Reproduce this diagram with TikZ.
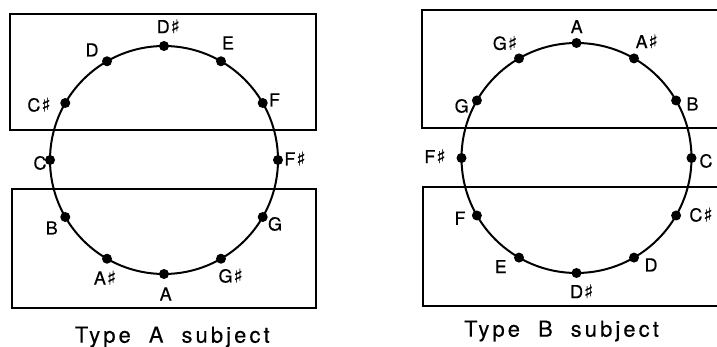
\documentclass[tikz,border=0pt]{standalone}
\usepackage{fontspec}
\setmainfont[FakeBold=0.4]{TeX Gyre Heros}
\newfontfamily\symfont[FakeBold=0.4]{DejaVu Sans}
\newfontfamily\capfont[LetterSpace=14,FakeBold=0.3]{TeX Gyre Heros}
\newcommand\shp{\hspace{1pt}{\symfont\fontsize{19}{19}\selectfont ♯}}
\usetikzlibrary{calc}
\begin{document}
\begin{tikzpicture}[x=1pt,y=-1pt,
  note/.style={circle,fill=black,inner sep=0pt,minimum size=10pt},
  lab/.style={font=\fontsize{18}{18}\selectfont,inner sep=0pt,text height=13pt,text depth=0pt},
  captxt/.style={font=\capfont\fontsize{22}{22}\selectfont,inner sep=0pt,anchor=base},
  frame/.style={draw,line width=1.6pt},
  ring/.style={draw,line width=2pt}]
\clip (0,0) rectangle (717,347);
\fill[white] (0,0) rectangle (717,347);
% frames
\draw[frame] (10,14) rectangle (316,130);
\draw[frame] (12,189) rectangle (316,308);
\draw[frame] (730,10) -- (422,10) -- (422,128) -- (730,128);
\draw[frame] (730,187) -- (423,187) -- (423,306) -- (730,306);
% circles
\coordinate (cL) at (164,160);
\coordinate (cR) at (576.5,158);
\draw[ring] (cL) circle[radius=114pt];
\draw[ring] (cR) circle[radius=115pt];
% dots
\foreach \n/\a in {Ds/90,E/60,F/30,Fs/0,G/-30,Gs/-60,A/-90,As/-120,B/-150,C/180,Cs/150,D/120}
  \node[note] (L\n) at ($(cL)+(\a:114pt)$) {};
\foreach \n/\a in {A/90,As/60,B/30,C/0,Cs/-30,D/-60,Ds/-90,E/-120,F/-150,Fs/180,G/150,Gs/120}
  \node[note] (R\n) at ($(cR)+(\a:115pt)$) {};
% left labels
\node[lab] (tLDs) at (168.3,26.7) {D\shp};
\node[lab] (tLD) at (92,50) {D};
\node[lab] (tLE) at (228,43) {E};
\node[lab] (tLF) at (274.5,100) {F};
\node[lab] (tLCs) at (39,105) {C\shp};
\node[lab] (tLC) at (40,163) {C};
\node[lab] (tLFs) at (295,159) {F\shp};
\node[lab] (tLG) at (275,224) {G};
\node[lab] (tLB) at (51.7,228) {B};
\node[lab] (tLAs) at (105,278) {A\shp};
\node[lab] (tLA) at (165.7,294) {A};
\node[lab] (tLGs) at (230.7,276) {G\shp};
% right labels
\node[lab] (tRA) at (576.7,26.7) {A};
\node[lab] (tRGs) at (505,43.3) {G\shp};
\node[lab] (tRAs) at (646.7,41.7) {A\shp};
\node[lab] (tRG) at (461.7,106) {G};
\node[lab] (tRB) at (692.5,104) {B};
\node[lab] (tRFs) at (435,156.7) {F\shp};
\node[lab] (tRC) at (706,161) {C};
\node[lab] (tRF) at (460,218.3) {F};
\node[lab] (tRCs) at (701,215) {C\shp};
\node[lab] (tRE) at (500.7,266.7) {E};
\node[lab] (tRD) at (651,265) {D};
\node[lab] (tRDs) at (581.7,291.7) {D\shp};
% captions
\node[captxt] (capL) at (172.3,342.7) {Type\hspace{18pt}A\hspace{18pt}subject};
\node[captxt] (capR) at (561.5,336.7) {Type\hspace{18pt}B\hspace{18pt}subject};
\end{tikzpicture}
\end{document}
